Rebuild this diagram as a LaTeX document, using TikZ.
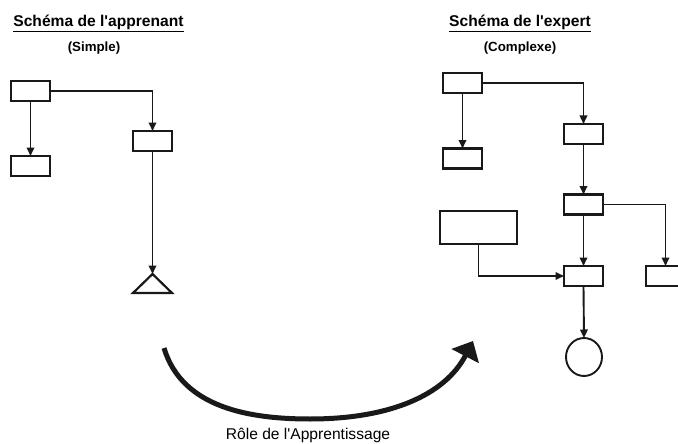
\documentclass[tikz,border=0pt]{standalone}
\usepackage{fontspec}
\newfontfamily\arial{Liberation Sans}
\usetikzlibrary{arrows.meta,shapes.geometric}
\begin{document}
\begin{tikzpicture}[x=1pt,y=-1pt,
  box/.style={draw=black!90,line width=2.2pt,inner sep=0pt,outer sep=0pt,
    minimum width=39pt,minimum height=20pt},
  conn/.style={draw=black!90,line width=1.9pt,
    -{Triangle[length=8.5pt,width=7.5pt]}},
  title/.style={anchor=base,inner sep=0pt,
    font=\arial\fontsize{15.6}{18}\selectfont\bfseries},
  subtitle/.style={anchor=base,inner sep=0pt,
    font=\arial\fontsize{13.3}{16}\selectfont\bfseries}]
\clip (0,0) rectangle (678,444);
\fill[white] (0,0) rectangle (678,444);

% headings
\node[title] (tL) at (98.5,27) {\underline{Schéma de l'apprenant}};
\node[subtitle] (sL) at (94,52) {(Simple)};
\node[title] (tR) at (520,27) {\underline{Schéma de l'expert}};
\node[subtitle] (sR) at (520,52) {(Complexe)};

% learner's schema
\node[box] (A1) at (30.5,91) {};
\node[box] (A2) at (30.5,166) {};
\node[box] (A3) at (152.5,141) {};
\coordinate (apex) at (152.5,274);
\draw[draw=black!90,line width=2.2pt,line join=miter] (apex) -- (133,293) -- (172,293) -- cycle;
\draw[conn] (A1.east) -| (A3.north);
\draw[conn] (A1.south) -- (A2.north);
\draw[conn] (A3.south) -- (apex);

% expert's schema
\node[box] (B1) at (462.5,83) {};
\node[box] (B2) at (462.5,158.5) {};
\node[box] (B3) at (583.5,134) {};
\node[box] (B4) at (583.5,204.5) {};
\node[box] (B5) at (583.5,276) {};
\node[box] (B6) at (665.5,276) {};
\node[box,minimum width=77pt,minimum height=33pt] (B7) at (478.5,227.5) {};
\node[draw=black!90,line width=1.9pt,ellipse,inner sep=0pt,outer sep=0pt,
  minimum width=36pt,minimum height=38pt] (C) at (584,357) {};
\draw[conn] (B1.east) -| (B3.north);
\draw[conn] (B1.south) -- (B2.north);
\draw[conn] (B3.south) -- (B4.north);
\draw[conn] (B4.east) -| (B6.north);
\draw[conn] (B4.south) -- (B5.north);
\draw[conn] (B7.south) |- (B5.west);
\draw[conn] (B5.south) -- (C.north);

% learning arrow
\coordinate (lstart) at (164,348);
\coordinate (lend) at (473,341);
\draw[draw=black!90,line width=5pt,-{Triangle[length=17pt,width=30pt]}]
  (lstart) .. controls (182,408) and (250,419) .. (310,419)
  .. controls (390,419) and (445,395) .. (lend);
\node[anchor=base,inner sep=0pt,font=\arial\fontsize{15.6}{18}\selectfont] (lbl)
  at (308,439) {Rôle de l'Apprentissage};
\end{tikzpicture}
\end{document}
